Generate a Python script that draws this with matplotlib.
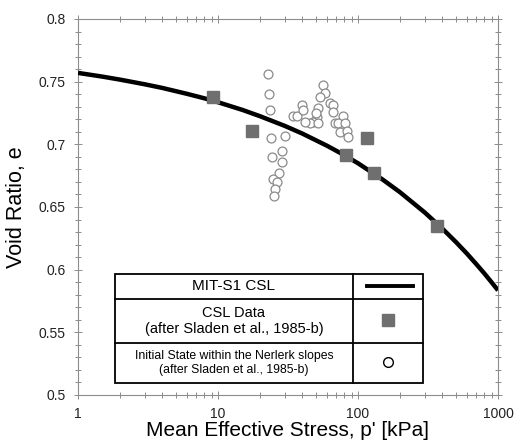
import matplotlib
matplotlib.use("Agg")
import matplotlib.pyplot as plt
from matplotlib.lines import Line2D
from matplotlib.patches import Rectangle
from matplotlib.ticker import FixedLocator, LogLocator, NullFormatter, FuncFormatter

plt.rcParams['font.family'] = ['Liberation Sans', 'DejaVu Sans']

# MIT-S1 CSL curve
csl_p = [1, 1.5, 2, 3, 4, 6, 8, 10, 15, 20, 30, 40, 60, 80, 100, 150, 200, 300, 400,
         500, 600, 700, 800, 900, 1000]
csl_e = [0.757, 0.754, 0.7516, 0.7479, 0.745, 0.7403, 0.7367, 0.7336, 0.7274, 0.7224,
         0.7147, 0.7086, 0.6989, 0.6913, 0.6849, 0.6719, 0.6617, 0.6456, 0.6328,
         0.6221, 0.6128, 0.6044, 0.5969, 0.5899, 0.5835]

# CSL data (after Sladen et al., 1985-b)
csl_data_p = [9.2, 17.5, 82, 116, 130, 367]
csl_data_e = [0.738, 0.711, 0.6915, 0.705, 0.677, 0.635]

# Initial state within the Nerlerk slopes
init_p = [22.8, 23.1, 23.5, 23.9, 30.1, 28.7, 24.3, 28.7, 27.3, 24.7, 26.4, 25.5, 25.1,
          34.3, 36.7, 39.8, 40.5, 56.2, 58.1, 53.5, 63.1, 66.3, 51.8, 51.0, 47.7,
          45.4, 41.8, 51.8, 66.3, 78.1, 68.5, 71.9, 80.7, 74.3, 83.5, 84.8, 50.1]
init_e = [0.756, 0.740, 0.727, 0.705, 0.707, 0.695, 0.690, 0.686, 0.677, 0.672, 0.670, 0.664, 0.659,
          0.723, 0.723, 0.731, 0.727, 0.747, 0.741, 0.738, 0.733, 0.731, 0.729, 0.722, 0.718,
          0.717, 0.718, 0.717, 0.726, 0.723, 0.717, 0.717, 0.717, 0.710, 0.711, 0.706, 0.725]

y_ticks = [0.5, 0.55, 0.6, 0.65, 0.7, 0.75, 0.8]
x_ticks = [1, 10, 100, 1000]

W, H = 519, 443
fig = plt.figure(figsize=(W / 100, H / 100), dpi=100)
ax = fig.add_axes([78 / W, 1 - 395 / H, 420 / W, 376 / H])

ax.plot(init_p, init_e, linestyle='none', marker='o', markersize=6.4,
        markerfacecolor='white', markeredgecolor='#8a8a8a', markeredgewidth=0.9, zorder=2)
ax.plot(csl_p, csl_e, color='black', linewidth=3.2, solid_capstyle='butt',
        solid_joinstyle='round', zorder=3)
ax.plot(csl_data_p, csl_data_e, linestyle='none', marker='s', markersize=8.6,
        markerfacecolor='#6f6f6f', markeredgecolor='#6f6f6f', zorder=4)

ax.set_xscale('log')
ax.set_xlim(1, 1000)
ax.set_ylim(0.5, 0.8)
ax.xaxis.set_major_locator(FixedLocator(x_ticks))
ax.xaxis.set_major_formatter(FuncFormatter(lambda v, p: '%g' % v))
ax.xaxis.set_minor_locator(LogLocator(base=10, subs=range(2, 10)))
ax.xaxis.set_minor_formatter(NullFormatter())
ax.yaxis.set_major_locator(FixedLocator(y_ticks))
ax.yaxis.set_major_formatter(FuncFormatter(lambda v, p: '%g' % v))
ax.yaxis.set_minor_locator(FixedLocator([0.5 + 0.01 * i for i in range(31)]))

for s in ax.spines.values():
    s.set_color('#8c8c8c')
    s.set_linewidth(0.8)
ax.tick_params(which='both', direction='inout', top=True, right=True, color='#8c8c8c', width=0.7)
ax.tick_params(which='major', length=6, labelsize=10, labelcolor='#222222', pad=6)
ax.tick_params(which='minor', length=4)

ax.set_xlabel("Mean Effective Stress, p' [kPa]", fontsize=15, labelpad=0)
ax.set_ylabel("Void Ratio, e", fontsize=15.5, labelpad=8)

# table-style legend (figure pixel coordinates)
def fx(x):
    return x / W

def fy(y):
    return 1 - y / H

lx0, lx1, lxd = 115, 423, 353
ly0, ly1, ly2, ly3 = 274, 299, 343, 383
fig.add_artist(Rectangle((fx(lx0), fy(ly3)), fx(lx1) - fx(lx0), fy(ly0) - fy(ly3),
                         transform=fig.transFigure, facecolor='white', edgecolor='black',
                         linewidth=1.3, zorder=5))
for yy in (ly1, ly2):
    fig.add_artist(Line2D([fx(lx0), fx(lx1)], [fy(yy), fy(yy)], transform=fig.transFigure,
                          color='black', linewidth=1.3, zorder=6))
fig.add_artist(Line2D([fx(lxd), fx(lxd)], [fy(ly0), fy(ly3)], transform=fig.transFigure,
                      color='black', linewidth=1.3, zorder=6))
cx = fx((lx0 + lxd) / 2)
fig.text(cx, fy((ly0 + ly1) / 2), "MIT-S1 CSL", ha='center', va='center', fontsize=11, zorder=7)
fig.text(cx, fy((ly1 + ly2) / 2), "CSL Data\n(after Sladen et al., 1985-b)", ha='center',
         va='center', fontsize=10.5, linespacing=1.15, zorder=7)
fig.text(cx, fy((ly2 + ly3) / 2), "Initial State within the Nerlerk slopes\n(after Sladen et al., 1985-b)",
         ha='center', va='center', fontsize=8.8, linespacing=1.15, zorder=7)
sx = (lxd + lx1) / 2
fig.add_artist(Line2D([fx(367), fx(413)], [fy(286), fy(286)], transform=fig.transFigure,
                      color='black', linewidth=2.8, zorder=7))
fig.add_artist(Line2D([fx(sx)], [fy(320)], transform=fig.transFigure, marker='s', markersize=8,
                      markerfacecolor='#6f6f6f', markeredgecolor='#6f6f6f', zorder=7))
fig.add_artist(Line2D([fx(sx)], [fy(362)], transform=fig.transFigure, marker='o', markersize=7,
                      markerfacecolor='white', markeredgecolor='black', markeredgewidth=1.0, zorder=7))

fig.savefig('out.png', dpi=100)
